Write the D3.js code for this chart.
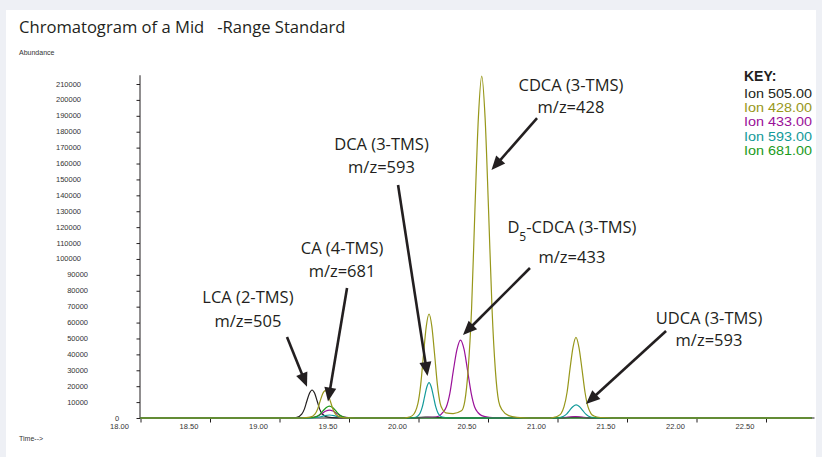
<!DOCTYPE html>
<html>
<head>
<meta charset="utf-8">
<script src="https://cdn.jsdelivr.net/npm/d3@7"></script>
<style>
  body { margin: 0; background: #eef0f5; }
  svg { display: block; }
</style>
</head>
<body>
<svg id="chart" width="822" height="457"></svg>
<script>
// ---- data: [time (min), abundance] ----
var ion505 = [[18.15,0],[19.20,0],[19.27,200],[19.311,2500],[19.33,5600],[19.348,10700],[19.367,15500],[19.385,17600],
  [19.404,15500],[19.422,10700],[19.44,5600],[19.459,2500],[19.50,500],[19.56,100],[19.64,0],[20.08,0],[20.20,500],
  [20.30,300],[20.40,0],[21.15,0],[21.28,500],[21.40,0],[22.98,0]];

var ion428 = [[18.15,0],[19.30,0],[19.33,200],[19.37,500],[19.406,2400],[19.425,5500],[19.443,10500],[19.461,15100],
  [19.48,17200],[19.499,15100],[19.517,10500],[19.536,5500],[19.554,2400],[19.59,500],[19.63,100],[19.70,0],[20.05,0],
  [20.07,300],[20.107,1500],[20.147,9200],[20.167,21000],[20.187,39900],[20.207,57600],[20.227,65400],[20.247,57600],
  [20.267,39900],[20.287,21000],[20.307,9200],[20.327,5000],[20.347,3200],[20.40,2800],[20.46,4500],[20.484,10500],
  [20.508,30100],[20.533,68800],[20.557,131000],[20.582,189000],[20.606,215000],[20.63,189000],[20.655,131000],
  [20.68,68800],[20.704,30100],[20.728,10500],[20.753,5000],[20.80,1500],[20.86,400],[20.95,0],[21.10,0],[21.12,300],
  [21.155,1300],[21.177,2800],[21.198,7100],[21.22,16200],[21.241,30900],[21.263,44600],[21.284,50700],[21.305,44600],
  [21.327,30900],[21.349,16200],[21.37,7100],[21.392,2800],[21.413,1300],[21.46,300],[21.55,0],[22.98,0]];

var ion433 = [[18.15,0],[19.30,0],[19.36,200],[19.41,700],[19.435,1600],[19.46,3050],[19.485,4400],[19.51,5000],
  [19.535,4400],[19.56,3050],[19.585,1600],[19.61,700],[19.66,150],[19.72,0],[20.10,0],[20.20,300],[20.25,400],
  [20.30,1300],[20.326,3500],[20.351,6900],[20.377,15700],[20.402,29900],[20.428,43100],[20.453,49000],[20.479,43100],
  [20.504,29900],[20.53,15700],[20.555,6900],[20.58,3300],[20.606,1500],[20.66,400],[20.75,0],[21.15,0],[21.28,900],
  [21.40,0],[22.98,0]];

var ion593 = [[18.15,0],[19.38,0],[19.42,300],[19.465,1200],[19.51,1900],[19.555,1200],[19.60,300],[19.65,0],[20.07,0],
  [20.10,100],[20.131,450],[20.147,1300],[20.163,3100],[20.179,7100],[20.195,13500],[20.211,19500],[20.227,22200],
  [20.243,19500],[20.259,13500],[20.275,7100],[20.291,3100],[20.307,1300],[20.323,500],[20.37,100],[20.45,0],[21.12,0],
  [21.15,100],[21.195,1150],[21.218,2600],[21.24,5000],[21.263,7200],[21.285,8200],[21.308,7200],[21.33,5000],
  [21.353,2600],[21.375,1150],[21.42,200],[21.47,0],[22.98,0]];

var ion681 = [[18.15,0],[19.33,0],[19.375,150],[19.42,1050],[19.443,2400],[19.465,4600],[19.488,6600],[19.51,7500],
  [19.533,6600],[19.555,4600],[19.578,2400],[19.60,1050],[19.645,150],[19.70,0],[22.98,0]];

var keyLabels = ["Ion 505.00", "Ion 428.00", "Ion 433.00", "Ion 593.00", "Ion 681.00"];
var keyColors = ["#231f20", "#97971a", "#9a1199", "#139a9a", "#1b9a1b"];
var xLabels = [18.0, 18.5, 19.0, 19.5, 20.0, 20.5, 21.0, 21.5, 22.0, 22.5];
var yLabels = [10000,20000,30000,40000,50000,60000,70000,80000,90000,100000,110000,120000,130000,
  140000,150000,160000,170000,180000,190000,200000,210000];

// annotations: label centre + arrow tail/tip in data units
var notes = [
  {l1: "LCA (2-TMS)", l2: "m/z=505", t: 18.924, a1: 72000, a2: 57300, from: [19.205, 50900], to: [19.349, 19700]},
  {l1: "CA (4-TMS)", l2: "m/z=681", t: 19.601, a1: 103400, a2: 88400, from: [19.637, 81700], to: [19.50, 10300]},
  {l1: "DCA (3-TMS)", l2: "m/z=593", t: 19.885, a1: 168500, a2: 154000, from: [20.004, 146500], to: [20.216, 26400]},
  {l1: "CDCA (3-TMS)", l2: "m/z=428", t: 21.248, a1: 205600, a2: 191500, from: [21.004, 188600], to: [20.676, 155900]},
  {l1: "-CDCA (3-TMS)", sub: "5", l2: "m/z=433", t: 21.255, a1: 116500, a2: 97400, from: [20.953, 94300], to: [20.471, 52200]},
  {l1: "UDCA (3-TMS)", l2: "m/z=593", t: 22.241, a1: 59400, a2: 45300, from: [21.932, 54700], to: [21.356, 8800]}
];

var svg = d3.select("#chart");
var W = 822, H = 457;

svg.append("rect").attr("x", 6).attr("y", 10).attr("width", 810).attr("height", H - 10).attr("fill", "#fff");

var x = d3.scaleLinear().domain([18, 23]).range([119.5, 814.5]);
var y = d3.scaleLinear().domain([0, 210000]).range([418, 84]);
var tickShift = 21;      // the printed ticks sit to the right of their labels
var y0 = y(0);
var xAxisX = x(18) + tickShift - 0.5;

// title and axis captions
svg.append("text").attr("x", 19).attr("y", 32.5)
  .attr("font-family", "'Open Sans', sans-serif").attr("font-size", 16.6).attr("fill", "#231f20")
  .style("white-space", "pre").text("Chromatogram of a Mid   -Range Standard");
svg.append("text").attr("x", 19).attr("y", 54.5).attr("font-family", "'Liberation Sans', Arial")
  .attr("font-size", 7).attr("fill", "#333").text("Abundance");
svg.append("text").attr("x", 19).attr("y", 441).attr("font-family", "'Liberation Sans', Arial")
  .attr("font-size", 7).attr("fill", "#333").text("Time-->");

// y axis: minor + major ticks
var gy = svg.append("g").attr("transform", "translate(" + xAxisX + ",0)");
gy.call(d3.axisLeft(y).tickValues(d3.range(0, 214001, 2000)).tickSize(1.5).tickFormat(""));
gy.call(d3.axisLeft(y).tickValues(yLabels.concat([0])).tickSize(3.5).tickFormat(""));
gy.selectAll(".domain").remove();
gy.selectAll("line").attr("stroke", "#231f20");
gy.append("line").attr("x1", 0).attr("x2", 0).attr("y1", y0).attr("y2", y(215500)).attr("stroke", "#231f20");

svg.append("g").selectAll("text").data(yLabels).enter().append("text")
  .attr("x", function(d) { return d >= 100000 ? 81 : 88; })
  .attr("y", function(d) { return y(d) + 2.5; })
  .attr("text-anchor", "end")
  .attr("font-family", "'Liberation Sans', Arial").attr("font-size", 7.5).attr("fill", "#333")
  .text(function(d) { return d; });
svg.append("text").attr("x", x(18) - 2.5).attr("y", y0 + 2.5).attr("text-anchor", "middle")
  .attr("font-family", "'Liberation Sans', Arial").attr("font-size", 7.5).attr("fill", "#333").text("0");

// x axis ticks
var gx = svg.append("g").attr("transform", "translate(" + tickShift + "," + y0 + ")");
gx.call(d3.axisBottom(x).tickValues(d3.range(180, 229).map(function(v) { return v / 10; })).tickSize(2.5).tickFormat(""));
gx.call(d3.axisBottom(x).tickValues(xLabels).tickSize(4.5).tickFormat(""));
gx.selectAll(".domain").remove();
gx.selectAll("line").attr("stroke", "#231f20");
svg.append("line").attr("x1", xAxisX).attr("x2", x(23)).attr("y1", y0).attr("y2", y0).attr("stroke", "#231f20");

svg.append("g").selectAll("text").data(xLabels).enter().append("text")
  .attr("x", function(d) { return x(d); })
  .attr("y", y0 + 10.5)
  .attr("text-anchor", "middle")
  .attr("font-family", "'Liberation Sans', Arial").attr("font-size", 7.5).attr("fill", "#333")
  .text(function(d) { return d.toFixed(2); });

// traces (olive last so it lies on the baseline)
var line = d3.line().x(function(d) { return x(d[0]); }).y(function(d) { return y(d[1]); }).curve(d3.curveMonotoneX);
var traces = [[ion505, 0], [ion433, 2], [ion593, 3], [ion681, 4], [ion428, 1]];
svg.append("g").selectAll("path").data(traces).enter().append("path")
  .attr("d", function(d) { return line(d[0]); })
  .attr("fill", "none")
  .attr("stroke", function(d) { return keyColors[d[1]]; })
  .attr("stroke-width", 1.2);

// key
svg.append("text").attr("x", 744).attr("y", 81).attr("font-family", "'Liberation Sans', Arial")
  .attr("font-size", 14).attr("font-weight", "bold").attr("fill", "#231f20").text("KEY:");
svg.append("g").selectAll("text").data(keyLabels).enter().append("text")
  .attr("x", 744).attr("y", function(d, i) { return 98 + i * 14.2; })
  .attr("font-family", "'Liberation Sans', Arial").attr("font-size", 12.3)
  .attr("textLength", 68).attr("lengthAdjust", "spacingAndGlyphs")
  .attr("fill", function(d, i) { return keyColors[i]; })
  .text(function(d) { return d; });

// annotations
var ga = svg.append("g").attr("font-family", "'Open Sans', sans-serif").attr("font-size", 16.5).attr("fill", "#231f20");
notes.forEach(function(n) {
  var t1 = ga.append("text").attr("x", x(n.t)).attr("y", y(n.a1)).attr("text-anchor", "middle");
  if (n.sub) {
    t1.append("tspan").text("D");
    t1.append("tspan").attr("dy", 8).attr("font-size", 12).text(n.sub);
    t1.append("tspan").attr("dy", -8).text(n.l1);
  } else {
    t1.text(n.l1);
  }
  ga.append("text").attr("x", x(n.t)).attr("y", y(n.a2)).attr("text-anchor", "middle").text(n.l2);

  var x1 = x(n.from[0]), y1 = y(n.from[1]), x2 = x(n.to[0]), y2 = y(n.to[1]);
  var dx = x2 - x1, dy = y2 - y1, len = Math.sqrt(dx * dx + dy * dy);
  var ux = dx / len, uy = dy / len, hl = 14, hw = 6;
  ga.append("line").attr("x1", x1).attr("y1", y1)
    .attr("x2", x2 - ux * (hl - 2)).attr("y2", y2 - uy * (hl - 2))
    .attr("stroke", "#231f20").attr("stroke-width", 2.6);
  var bx = x2 - ux * hl, by = y2 - uy * hl;
  ga.append("path")
    .attr("d", "M" + x2 + "," + y2 + "L" + (bx - uy * hw) + "," + (by + ux * hw) + "L" + (bx + uy * hw) + "," + (by - ux * hw) + "Z")
    .attr("fill", "#231f20");
});
</script>
</body>
</html>
